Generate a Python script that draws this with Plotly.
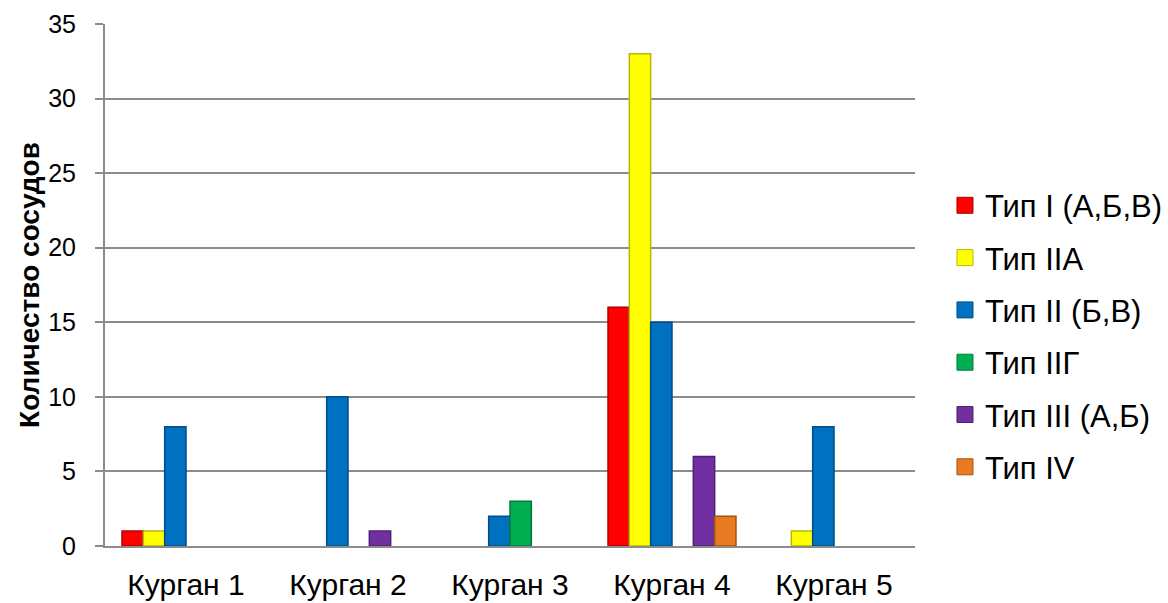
import plotly.graph_objects as go

# Vessel counts per burial mound, grouped by vessel type
kurgans = ["Курган 1", "Курган 2", "Курган 3", "Курган 4", "Курган 5"]
series_names = ["Тип I (А,Б,В)", "Тип IIА", "Тип II (Б,В)", "Тип IIГ", "Тип III (А,Б)", "Тип IV"]
type_I = [1, 0, 0, 16, 0]
type_IIA = [1, 0, 0, 33, 1]
type_II_BV = [8, 10, 2, 15, 8]
type_IIG = [0, 0, 3, 0, 0]
type_III = [0, 1, 0, 6, 0]
type_IV = [0, 0, 0, 2, 0]
y_ticks = [0, 5, 10, 15, 20, 25, 30, 35]

series_values = [type_I, type_IIA, type_II_BV, type_IIG, type_III, type_IV]
fill_colors = ["#FF0000", "#FFFF00", "#0070C0", "#00B050", "#7030A0", "#E87B22"]
edge_colors = ["#B00000", "#B8B800", "#004E88", "#007A3A", "#4E1F72", "#A4520F"]

FONT = "Liberation Sans, Arial, sans-serif"

fig = go.Figure()
for i, (name, vals) in enumerate(zip(series_names, series_values)):
    # no outline on empty bars so zero values stay invisible
    widths = [1.5 if v > 0 else 0 for v in vals]
    fig.add_trace(go.Bar(
        x=kurgans, y=vals, name=name, showlegend=False,
        marker=dict(color=fill_colors[i], line=dict(color=edge_colors[i], width=widths)),
    ))

# legend entries with larger square swatches
for i, name in enumerate(series_names):
    fig.add_trace(go.Scatter(
        x=[None], y=[None], mode="markers", name=name,
        legendgroup=f"g{i}",
        marker=dict(symbol="square", size=16, color=fill_colors[i],
                    line=dict(color=edge_colors[i], width=1)),
    ))

fig.update_layout(
    width=1168, height=603,
    margin=dict(l=105, r=253, t=24, b=57, autoexpand=False),
    paper_bgcolor="white", plot_bgcolor="white",
    barmode="group", bargap=0.21, bargroupgap=0,
    font=dict(family=FONT, color="#000000", size=25),
    legend=dict(
        x=1.037, y=0.402, xanchor="left", yanchor="middle",
        font=dict(family=FONT, size=31, color="#000000"),
        traceorder="grouped", tracegroupgap=9,
        itemclick=False,
    ),
    xaxis=dict(
        showgrid=False, showline=True, linecolor="#8C8C8C", linewidth=2,
        ticks="", tickfont=dict(size=30, family=FONT), ticklabelstandoff=11,
        automargin=False,
    ),
    yaxis=dict(
        range=[0, 35], tickvals=y_ticks, ticktext=[str(v) for v in y_ticks],
        showgrid=True, gridcolor="#8C8C8C", gridwidth=2,
        showline=True, linecolor="#8C8C8C", linewidth=2,
        ticks="outside", ticklen=8, tickcolor="#8C8C8C", tickwidth=2,
        tickfont=dict(size=25, family=FONT), ticklabelstandoff=14,
        zeroline=False, automargin=False,
        title=dict(text="<b>Количество сосудов</b>", font=dict(size=28, family=FONT), standoff=0),
    ),
)

fig.write_html("out.html")
